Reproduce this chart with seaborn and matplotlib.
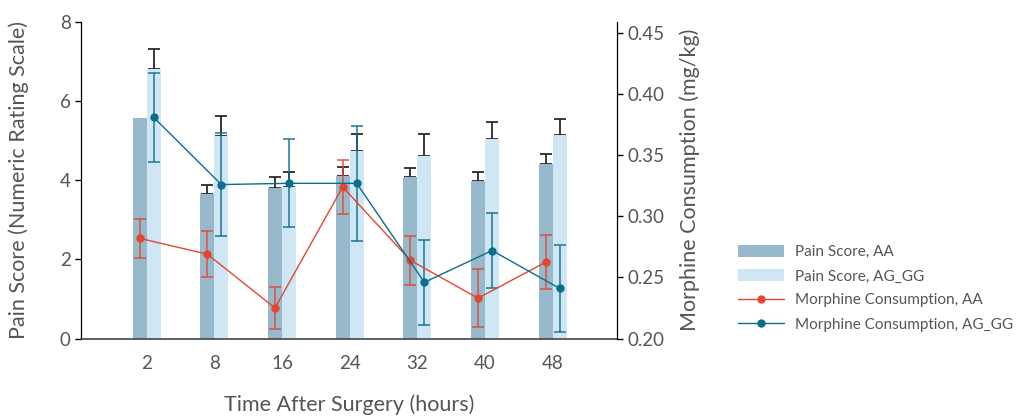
import numpy as np
import pandas as pd
import matplotlib
matplotlib.use("Agg")
import matplotlib.pyplot as plt
import seaborn as sns
from matplotlib.patches import Patch

times = ["2", "8", "16", "24", "32", "40", "48"]
pain_aa = [5.58, 3.66, 3.80, 4.12, 4.09, 3.97, 4.42]
pain_aa_err = [0.0, 0.21, 0.27, 0.21, 0.22, 0.24, 0.25]
pain_ag = [6.82, 5.11, 3.84, 4.73, 4.62, 5.05, 5.15]
pain_ag_err = [0.49, 0.52, 0.37, 0.43, 0.54, 0.42, 0.41]
morph_aa = [0.282, 0.269, 0.225, 0.324, 0.264, 0.233, 0.2625]
morph_aa_err = [0.016, 0.019, 0.0175, 0.022, 0.020, 0.0235, 0.022]
morph_ag = [0.381, 0.326, 0.327, 0.327, 0.246, 0.272, 0.241]
morph_ag_err = [0.0365, 0.042, 0.036, 0.047, 0.035, 0.031, 0.0355]

lab_pa = "Pain Score, AA"
lab_pg = "Pain Score, AG_GG"
lab_ma = "Morphine Consumption, AA"
lab_mg = "Morphine Consumption, AG_GG"

c_bar_aa = "#98b9cc"
c_bar_ag = "#cfe6f5"
c_red = "#e5472e"
c_blue = "#0b6e8c"
c_text = "#555555"

sns.set_theme(style="white")
plt.rcParams["font.family"] = ["Lato", "DejaVu Sans"]
plt.rcParams["text.color"] = c_text
plt.rcParams["axes.labelcolor"] = c_text
plt.rcParams["xtick.color"] = c_text
plt.rcParams["ytick.color"] = c_text

fig = plt.figure(figsize=(10.2, 4.17), dpi=100)
ax = fig.add_axes([0.0794, 0.1882, 0.6049 - 0.0794, 0.9472 - 0.1882])

df = pd.DataFrame({
    "time": times * 2,
    "pain": pain_aa + pain_ag,
    "group": [lab_pa] * len(times) + [lab_pg] * len(times),
})
sns.barplot(data=df, x="time", y="pain", hue="group", order=times,
            hue_order=[lab_pa, lab_pg], palette=[c_bar_aa, c_bar_ag],
            width=0.414, gap=0, errorbar=None, saturation=1, ax=ax,
            legend=False, zorder=1, linewidth=0, edgecolor="none")

bw = 0.414 / 2
x = np.arange(len(times))
x_aa = x - bw / 2
x_ag = x + bw / 2

# bar error bars (upper only, behind bars)
for xs, vals, errs in [(x_aa, pain_aa, pain_aa_err), (x_ag, pain_ag, pain_ag_err)]:
    for xi, v, e in zip(xs, vals, errs):
        if e > 0:
            ax.errorbar([xi], [v], yerr=[[0], [e]], fmt="none", ecolor="#2a2a2a",
                        elinewidth=1.3, capsize=4, capthick=1.3, zorder=0.5)

ax.set_ylim(0, 8)
ax.set_yticks([0, 2, 4, 6, 8])
ax.set_xlim(-0.97, 6.95)
ax.set_xlabel("Time After Surgery (hours)", fontsize=15.5, labelpad=16)
ax.set_ylabel("Pain Score (Numeric Rating Scale)", fontsize=15.5, labelpad=22)
ax.tick_params(axis="y", labelsize=13.5, length=4, width=1, color="black", direction="out", left=True)
ax.tick_params(axis="x", labelsize=13.5, length=0, pad=12)
for s in ["top", "right"]:
    ax.spines[s].set_visible(False)
ax.spines["left"].set_color("black")
ax.spines["left"].set_linewidth(0.9)
ax.spines["bottom"].set_color("#444444")
ax.spines["bottom"].set_linewidth(1.2)

ax2 = ax.twinx()
ax2.errorbar(x_aa, morph_aa, yerr=morph_aa_err, fmt="none", ecolor=c_red, alpha=0.85,
             elinewidth=1.2, capsize=4.5, capthick=1.2, zorder=2)
ax2.errorbar(x_ag, morph_ag, yerr=morph_ag_err, fmt="none", ecolor=c_blue, alpha=0.85,
             elinewidth=1.2, capsize=4.5, capthick=1.2, zorder=2)
ax2.plot(x_aa, morph_aa, color=c_red, lw=1.0, marker="o", ms=5, label=lab_ma, zorder=3)
ax2.plot(x_ag, morph_ag, color=c_blue, lw=1.0, marker="o", ms=5, label=lab_mg, zorder=3)
ax2.set_ylim(0.20, 0.459)
ax2.set_yticks([0.20, 0.25, 0.30, 0.35, 0.40, 0.45])
ax2.set_yticklabels(["0.20", "0.25", "0.30", "0.35", "0.40", "0.45"])
ax2.set_ylabel("Morphine Consumption (mg/kg)", fontsize=15.5, labelpad=11)
ax2.tick_params(axis="y", labelsize=13.5, length=4, width=1, color="black", direction="out", right=True)
for s in ["top", "left", "bottom"]:
    ax2.spines[s].set_visible(False)
ax2.spines["right"].set_color("black")
ax2.spines["right"].set_linewidth(0.9)
ax2.set_xlim(ax.get_xlim())

handles = [Patch(facecolor=c_bar_aa, edgecolor="none", label=lab_pa),
           Patch(facecolor=c_bar_ag, edgecolor="none", label=lab_pg)]
h2, l2 = ax2.get_legend_handles_labels()
handles += h2
fig.legend(handles=handles, loc="center left", bbox_to_anchor=(0.7235, 0.309),
           frameon=False, fontsize=11, handlelength=3.0, handleheight=0.9,
           handletextpad=0.75, labelspacing=0.62, borderpad=0, borderaxespad=0)

fig.savefig("out.png", dpi=100)
